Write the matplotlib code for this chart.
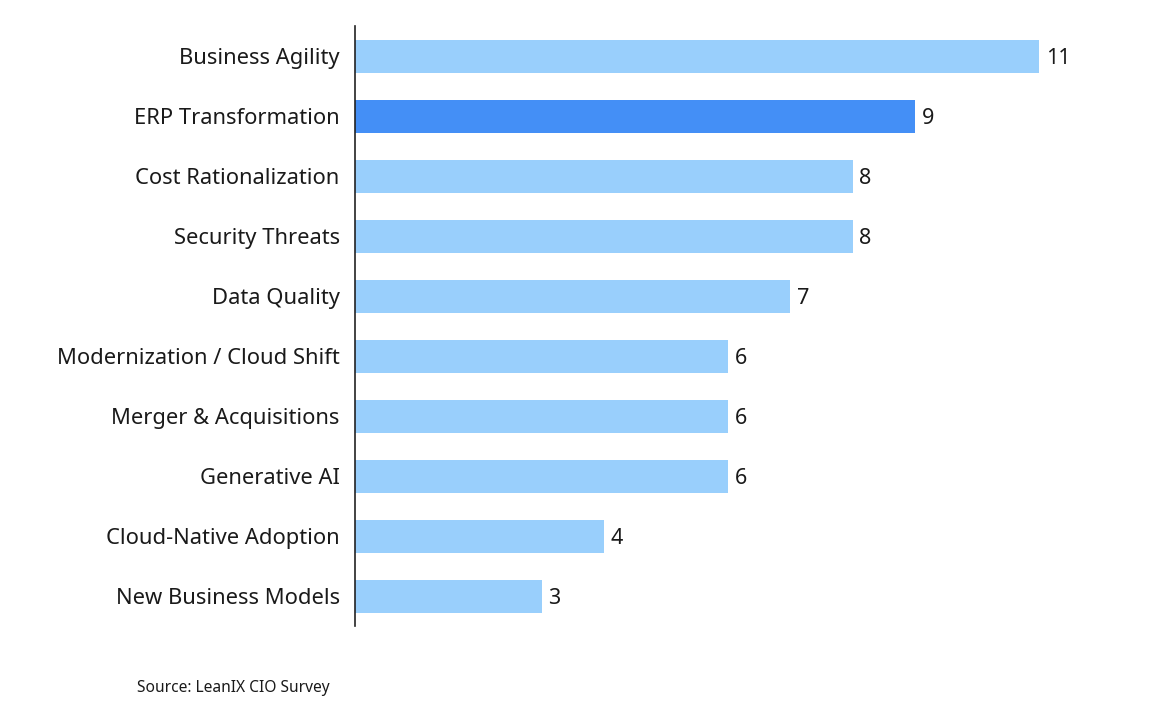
import matplotlib
matplotlib.use("Agg")
import matplotlib.pyplot as plt

# survey data
labels = ["Business Agility", "ERP Transformation", "Cost Rationalization",
          "Security Threats", "Data Quality", "Modernization / Cloud Shift",
          "Merger & Acquisitions", "Generative AI", "Cloud-Native Adoption",
          "New Business Models"]
values = [11, 9, 8, 8, 7, 6, 6, 6, 4, 3]
highlight = "ERP Transformation"

light = "#99CFFC"
dark = "#448FF6"

plt.rcParams['font.family'] = ['Noto Sans', 'DejaVu Sans']

fig = plt.figure(figsize=(11.54, 7.10), dpi=100)
ax = fig.add_axes([355/1154, 84/710, 777.5/1154, 600/710])

pos = list(range(len(labels)))
colors = [dark if l == highlight else light for l in labels]
bars = ax.barh(pos, values, height=0.55, color=colors)

# value labels at bar ends
for b, v in zip(bars, values):
    ax.text(b.get_width() + 0.11, b.get_y() + b.get_height()/2, str(v),
            va="center_baseline", ha="left", fontsize=15.5, color="#1a1a1a")

ax.set_yticks(pos)
ax.set_yticklabels(labels, fontsize=15.8, color="#1a1a1a", va="center_baseline")
ax.set_ylim(len(labels) - 0.5, -0.5)
ax.set_xlim(0, 12.5)
ax.set_xticks([])
ax.tick_params(axis="y", length=0, pad=11)

for s in ["top", "right", "bottom"]:
    ax.spines[s].set_visible(False)
ax.spines["left"].set_color("#222222")
ax.spines["left"].set_linewidth(1.2)

fig.text(137/1154, 1 - 688/710, "Source: LeanIX CIO Survey", fontsize=11.2,
         va="center", ha="left", color="#1a1a1a")

fig.savefig("out.png", dpi=100)
